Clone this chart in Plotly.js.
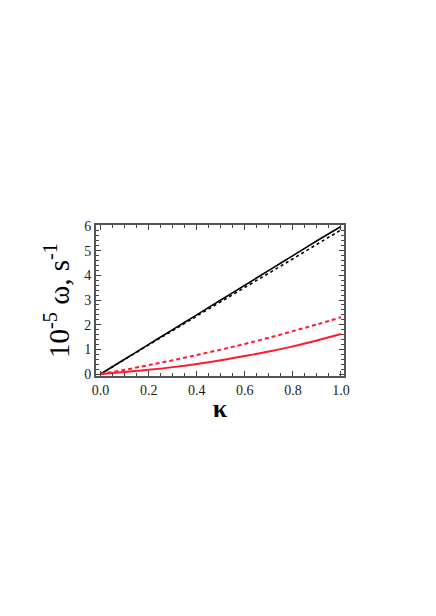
<!DOCTYPE html>
<html>
<head>
<meta charset="utf-8">
<script src="https://cdn.plot.ly/plotly-3.0.1.min.js"></script>
<style>html,body{margin:0;padding:0;background:#fff;}#chart{width:436px;height:616px;}</style>
</head>
<body>
<div id="chart"></div>
<script>
const kappa = [0, 0.1, 0.2, 0.3, 0.4, 0.5, 0.6, 0.7, 0.8, 0.9, 1.0];
const blackSolid = [0, 0.6, 1.2, 1.8, 2.4, 3.0, 3.6, 4.2, 4.8, 5.4, 5.98];
const blackDashed = [0, 0.59, 1.18, 1.76, 2.35, 2.93, 3.51, 4.09, 4.67, 5.26, 5.84];
const redDashed = [0, 0.17, 0.36, 0.56, 0.77, 0.99, 1.22, 1.47, 1.74, 2.01, 2.30];
const redSolid = [0, 0.08, 0.17, 0.28, 0.41, 0.56, 0.73, 0.91, 1.12, 1.36, 1.62];

const traces = [
  {x: kappa, y: blackSolid, mode: 'lines', line: {color: '#000', width: 1.6, shape: 'spline'}},
  {x: kappa, y: blackDashed, mode: 'lines', line: {color: '#000', width: 1.6, dash: '3px,3px', shape: 'spline'}},
  {x: kappa, y: redDashed, mode: 'lines', line: {color: '#ff1a2e', width: 2, dash: '4px,3px', shape: 'spline'}},
  {x: kappa, y: redSolid, mode: 'lines', line: {color: '#ff1a2e', width: 2, shape: 'spline'}}
];

const font = {family: '"Liberation Serif", "Times New Roman", serif', size: 14, color: '#1a1a1a'};
const axisCommon = {
  showgrid: false, zeroline: false, showline: true, linecolor: '#555', linewidth: 2,
  mirror: 'allticks', ticks: 'inside', tickcolor: '#444', tickwidth: 1, ticklen: 5,
  tickfont: font
};
const layout = {
  width: 436, height: 616,
  margin: {l: 96, r: 92, t: 225, b: 240},
  showlegend: false,
  paper_bgcolor: '#fff', plot_bgcolor: '#fff',
  xaxis: Object.assign({}, axisCommon, {
    range: [-0.019, 1.0125], tickvals: [0, 0.2, 0.4, 0.6, 0.8, 1.0],
    ticktext: ['0.0', '0.2', '0.4', '0.6', '0.8', '1.0'],
    minor: {dtick: 0.05, tick0: 0, ticks: 'inside', ticklen: 3, tickcolor: '#444', showgrid: false},
    title: {text: '<b>κ</b>', font: {family: '"Liberation Serif", serif', size: 26, color: '#000'}, standoff: 2}
  }),
  yaxis: Object.assign({}, axisCommon, {
    range: [-0.08, 6.04], dtick: 1, tick0: 0,
    minor: {dtick: 0.2, tick0: 0, ticks: 'inside', ticklen: 3, tickcolor: '#444', showgrid: false},
    title: {text: '10<sup>-5</sup> ω, s<sup>-1</sup>', font: {family: '"Liberation Serif", serif', size: 29, color: '#000'}, standoff: 6}
  })
};
Plotly.newPlot('chart', traces, layout, {displayModeBar: false, staticPlot: true});
</script>
</body>
</html>
